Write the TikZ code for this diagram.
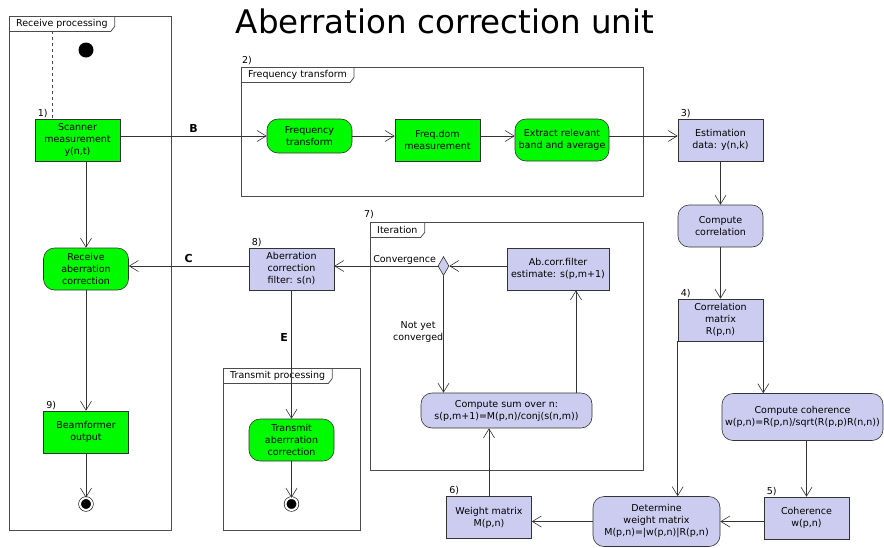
\documentclass[tikz,border=0pt]{standalone}
\usepackage{fontspec}
\setmainfont{DejaVu Sans}
\usetikzlibrary{positioning, shapes.geometric, arrows.meta, calc}
\definecolor{actgreen}{RGB}{0,250,0}
\definecolor{actblue}{RGB}{204,204,240}
\newcommand\FrameTab[6]{%
  \draw[frame] (#2,#3) rectangle (#4,#5);
  \node[tab] (#1) at (#2,#3) {#6};
  \draw[frame] (#1.south west) -- ([xshift=-4pt]#1.south east)
    -- ([yshift=5pt]#1.south east) -- (#1.north east);}

\begin{document}
\begin{tikzpicture}[x=1pt, y=-1pt,
every node/.style={font=\fontsize{9.5}{12}\selectfont},
base/.style={
  draw=black!80, line width=0.6pt,
  align=center, inner sep=1pt,
  minimum width=85pt, minimum height=42pt
},
greenrect/.style={base, fill=actgreen},
greenround/.style={base, fill=actgreen, rounded corners=11pt},
bluerect/.style={base, fill=actblue},
blueround/.style={base, fill=actblue, rounded corners=11pt},
flow/.style={draw=black!80, line width=0.6pt,
  -{Straight Barb[length=9pt, width=11pt]}},
frame/.style={draw=black!70, line width=0.8pt},
tab/.style={anchor=north west, inner ysep=0pt, inner xsep=7pt,
  minimum height=15pt},
num/.style={anchor=south west, inner sep=1pt, xshift=2pt},
edgelbl/.style={font=\fontsize{11}{13}\selectfont\bfseries},
start/.style={circle, fill=black, minimum size=15pt, inner sep=0pt},
stop/.style={circle, draw=black, fill=black, double, double distance=2pt,
  minimum size=12pt, inner sep=0pt, line width=0.6pt},
decision/.style={diamond, draw=black!80, fill=actblue, line width=0.6pt,
  inner sep=0pt, minimum width=11pt, minimum height=19pt}
]
\useasboundingbox (0,0) rectangle (884,547);

\node[anchor=base, font=\fontsize{32.5}{36}\selectfont] (title) at (445,33)
  {Aberration correction unit};

\FrameTab{rptab}{9}{16}{171}{530}{Receive processing}
\FrameTab{fttab}{241}{67}{643}{196}{Frequency transform}
\FrameTab{ittab}{370}{222}{643}{470}{Iteration}
\FrameTab{tptab}{223}{368}{360}{530}{Transmit processing}
\node[num, xshift=-2pt] (n2) at (241,66) {2)};
\node[num, xshift=-9pt] (n7) at (370,220) {7)};

\node[start] (init) at (86,50) {};
\node[greenrect, label={[num]north west:1)}] (sc) at (77.5,140)
  {Scanner\\measurement\\y(n,t)};
\node[greenround] (rac) at (86,269) {Receive\\aberration\\correction};
\node[greenrect, label={[num]north west:9)}] (bf) at (86,432)
  {Beamformer\\output};
\node[stop] (end1) at (86,504) {};

\node[greenround, minimum height=34pt] (ft) at (309.5,136)
  {Frequency\\transform};
\node[greenrect] (fd) at (437.5,140) {Freq.dom\\measurement};
\node[greenround, minimum width=94pt] (ex) at (562,140)
  {Extract relevant\\band and average};

\node[bluerect, label={[num]north west:3)}] (est) at (720.5,140)
  {Estimation\\data: y(n,k)};
\node[blueround] (cc) at (720.5,226) {Compute\\correlation};
\node[bluerect, label={[num]north west:4)}] (cm) at (720.5,320)
  {Correlation\\matrix\\R(p,n)};
\node[blueround, minimum width=161pt, minimum height=47pt] (coh) at (802.5,417)
  {Compute coherence\\w(p,n)=R(p,n)/sqrt(R(p,p)R(n,n))};
\node[bluerect, label={[num]north west:5)}] (cohr) at (806.5,518)
  {Coherence\\w(p,n)};
\node[blueround, minimum width=127pt, minimum height=50pt] (det) at (656.5,521.5)
  {Determine\\weight matrix\\M(p,n)=|w(p,n)|R(p,n)};
\node[bluerect, label={[num]north west:6)}] (wm) at (489,517.5)
  {Weight matrix\\M(p,n)};
\node[blueround, minimum width=171pt, minimum height=35pt] (cs) at (506.5,410.5)
  {Compute sum over n:\\s(p,m+1)=M(p,n)/conj(s(n,m))};
\node[bluerect, minimum width=102pt] (ab) at (558,269)
  {Ab.corr.filter\\estimate: s(p,m+1)};
\node[decision] (dec) at (443.5,266) {};
\node[bluerect, label={[num]north west:8)}] (acf) at (291.5,269)
  {Aberration\\correction\\filter: s(n)};
\node[greenround] (tac) at (291.5,440) {Transmit\\aberrration\\correction};
\node[stop] (end2) at (291.5,504) {};

\coordinate (dashtop) at (52,31);
\draw[dashed, black!70, line width=0.6pt] (dashtop) -- (dashtop |- sc.north);

\draw[flow] (sc.east |- ft.west) -- node[edgelbl, midway, above] {B} (ft.west);
\draw[flow] (ft.east) -- (ft.east -| fd.west);
\draw[flow] (fd.east |- ft.east) -- (ex.west |- ft.east);
\draw[flow] (ex.east |- ft.east) -- (est.west |- ft.east);
\draw[flow] (est) -- (cc);
\draw[flow] (cc) -- (cm);
\draw[flow] (cm.south east) -- (cm.south east |- coh.north);
\draw[flow] (cm.south west) -- (cm.south west |- det.north);
\draw[flow] (cohr.north |- coh.south) -- (cohr.north);
\draw[flow] (cohr.west |- det.east) -- (det.east);
\draw[flow] (det.west) -- (det.west -| wm.east);
\draw[flow] (wm.north) -- (wm.north |- cs.south);
\draw[flow] ([xshift=69.5pt]cs.north) -- ([xshift=69.5pt]cs.north |- ab.south);
\draw[flow] (ab.west |- dec.east) -- (dec.east);
\draw[flow] (dec.south) -- node[pos=0.48, left, align=center, inner sep=0pt]
  {Not yet\\converged} (dec.south |- cs.north);
\draw[flow] (dec.west) -- node[pos=0.32, above, inner sep=1.5pt] {Convergence}
  (dec.west -| acf.east);
\draw[flow] (acf.west |- dec.west) -- node[edgelbl, midway, above] {C}
  (rac.east |- dec.west);
\draw[flow] (acf) -- node[edgelbl, pos=0.37, left] {E} (tac);
\draw[flow] (sc.south -| rac) -- (rac);
\draw[flow] (rac) -- (bf);
\draw[flow] (bf) -- (end1);
\draw[flow] (tac) -- (end2);
\end{tikzpicture}
\end{document}
